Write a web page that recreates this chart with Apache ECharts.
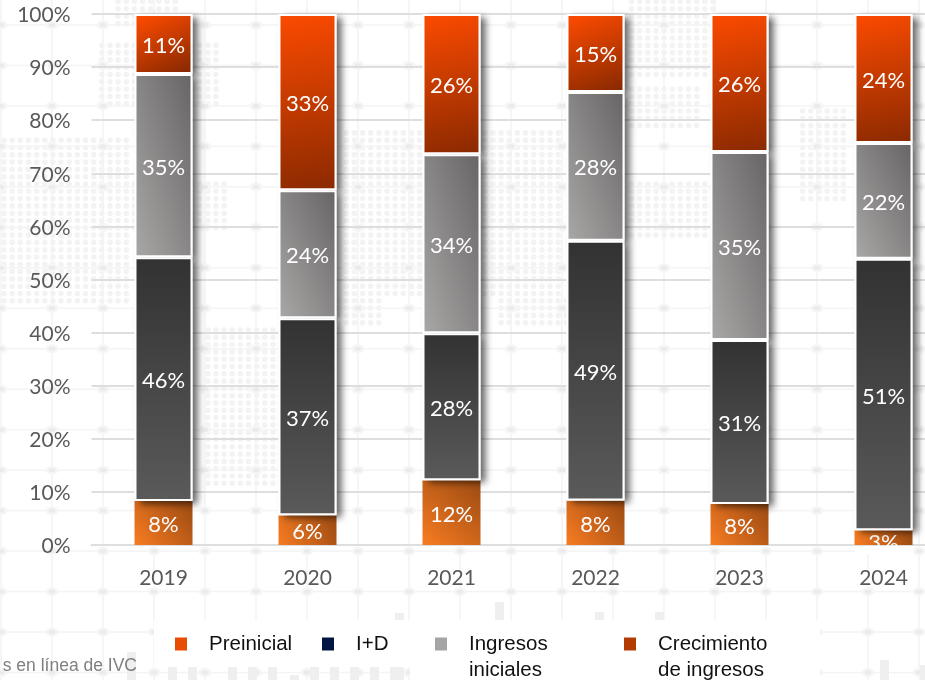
<!DOCTYPE html>
<html><head><meta charset="utf-8">
<style>
html,body{margin:0;padding:0;background:#fff;overflow:hidden}
#bg{position:absolute;left:0;top:0;width:925px;height:680px;z-index:0}
#main{position:absolute;left:0;top:0;width:925px;height:680px;z-index:1}
</style>
<script src="https://cdn.jsdelivr.net/npm/echarts@6/dist/echarts.min.js"></script>
</head><body>
<div id="bg"></div><div id="main"></div>
<script>
const years = ['2019','2020','2021','2022','2023','2024'];
const preinicial = [8.3,5.6,12.2,8.4,7.7,2.8];
const iD = [45.9,37.1,27.7,48.9,30.9,51.1];
const ingresosIniciales = [34.5,24.1,33.7,28.0,35.4,21.8];
const crecimiento = [11.3,33.2,26.4,14.7,26.0,24.3];
const yTicks = [0,10,20,30,40,50,60,70,80,90,100];

// Decorative backdrop: faint lattice, dotted world map, skyline bars
(function(){
  let s = '<svg xmlns="http://www.w3.org/2000/svg" width="925" height="680">';
  const dotPatches = [[0,136,130,165],[95,40,125,70],[115,0,65,25],[90,180,135,50],[200,330,90,160],[60,270,60,30],
    [340,130,90,165],[330,300,50,30],[470,130,95,170],[500,300,70,25],[630,0,90,80],[630,85,70,45],[630,180,85,60],[800,110,45,90],[795,180,30,20]];
  const seen = {};
  dotPatches.forEach(p=>{
    for(let y=1.5;y<680;y+=7.3){ for(let x=4;x<925;x+=8.15){
      if(x>=p[0]&&x<=p[0]+p[2]&&y>=p[1]&&y<=p[1]+p[3]){
        const k=x.toFixed(1)+'_'+y.toFixed(1);
        if(!seen[k]){seen[k]=1;s+=`<circle cx="${x.toFixed(1)}" cy="${y.toFixed(1)}" r="2.8" fill="#f3f3f3"/>`;}
      }
    }}
  });
  for(let i=0;i<19;i++){const x=1+51*i; s+=`<rect x="${x-0.75}" y="0" width="1.5" height="680" fill="#f4f4f4"/>`;}
  for(let j=0;j<17;j++){const y=25+40.47*j; s+=`<rect x="0" y="${y-0.75}" width="925" height="1.5" fill="#f4f4f4"/>`;}
  for(let i=0;i<19;i++){for(let j=0;j<17;j++){const x=1+51*i,y=25+40.47*j;
    s+=`<ellipse cx="${x}" cy="${y}" rx="6.5" ry="4.5" fill="#f6f6f6"/><ellipse cx="${x}" cy="${y}" rx="3.5" ry="2.2" fill="#ebebeb"/>`;}}
  [[127,652],[168,665],[188,665],[228,665],[248,665],[268,665],[290,675],[310,665],[330,665],[350,665],[370,665],[390,665],[395,613],[495,602],[595,612],[655,612],[880,660],[920,665]]
    .forEach(b=>{s+=`<rect x="${b[0]}" y="${b[1]}" width="9" height="${680-b[1]}" fill="#efefef"/>`;});
  s+='<rect x="154" y="620" width="258" height="47" fill="#fff"/><rect x="410" y="620" width="410" height="60" fill="#fff"/>';
  s+='</svg>';
  document.getElementById('bg').innerHTML=s;
})();

const font='Lato';
function grad(x,y,x2,y2,c0,c1){return {type:'linear',x,y,x2,y2,colorStops:[{offset:0,color:c0},{offset:1,color:c1}]};}
function cornerGrad(v,c0,c1){ // runs bottom-left to top-right, with the other two corners on the same tone
  const h=v*5.31,w=58,L2=h*h+w*w,a=h*h/L2,b=w*w/L2;
  return grad(0.5-a,0.5+b,0.5+a,0.5-b,c0,c1);
}
function mk(name,vals,color,border,z){
  return {name,type:'bar',stack:'front',barWidth:58,barGap:'-100%',z,data:vals,
    itemStyle:Object.assign({color},border?{borderColor:'#fff',borderWidth:2}:{}),
    label:{show:true,position:'inside',offset:[0,2],color:'#fff',fontFamily:font,fontSize:22,formatter:p=>Math.round(p.value)+'%'}};
}
// Shadow layer: plain fills behind the bordered bars, so the shadow does not fall on the bars themselves
function shadowLayer(key,vals,visible){
  return {name:key,type:'bar',stack:'back',barWidth:58,barGap:'-100%',z:3,silent:true,data:vals,
    itemStyle:visible?{color:'#fff',shadowColor:'rgba(0,0,0,0.6)',shadowBlur:7,shadowOffsetX:5,shadowOffsetY:3}:{color:'transparent'}};
}
const sPre=mk('Preinicial',preinicial,grad(0,1,1,0,'#F87C22','#9A4A12'),false,2);
sPre.data=preinicial.map((v,i)=>i===5?{value:v,label:{offset:[0,5]}}:v);
const sID=mk('I+D',iD,grad(0,0,0,1,'#323232','#5A5A5A'),true,4);
const sIng=mk('Ingresos iniciales',ingresosIniciales,'#8a8888',true,4);
sIng.data=ingresosIniciales.map(v=>({value:v,itemStyle:{color:cornerGrad(v,'#AAA8A7','#666464')}}));
const sCre=mk('Crecimiento de ingresos',crecimiento,grad(0.25,0,0.75,1,'#FA4A00','#8C2A00'),true,4);

function leg(name,left,top,color,text){
  return {show:true,left,top,orient:'horizontal',padding:0,itemWidth:12,itemHeight:13,selectedMode:false,
    data:[{name,icon:'rect',itemStyle:{color,borderWidth:0,shadowBlur:0,shadowColor:'transparent'}}],
    formatter:()=>text,
    textStyle:{fontFamily:'Liberation Sans',fontSize:20.5,lineHeight:26,color:'#111',padding:[0,0,0,17]}};
}
const chart=echarts.init(document.getElementById('main'),null,{renderer:'canvas'});
chart.setOption({
  animation:false,backgroundColor:'transparent',
  grid:{left:91.5,width:864,top:14,height:531,containLabel:false,outerBoundsMode:'none'},
  xAxis:{type:'category',data:years,axisTick:{show:false},
    axisLine:{lineStyle:{color:'#DEDEDE',width:2}},
    axisLabel:{color:'#595959',fontFamily:font,fontSize:21,margin:21,padding:[2,0,0,0]}},
  yAxis:{type:'value',min:0,max:100,interval:10,
    axisLine:{show:false},axisTick:{show:false},
    splitLine:{lineStyle:{color:'#DEDEDE',width:2}},
    axisLabel:{color:'#595959',fontFamily:font,fontSize:21,margin:21,verticalAlign:'top',lineHeight:3,formatter:v=>yTicks[v/10]+'%'}},
  legend:[
    leg('Preinicial',175,631,'#E84C00','Preinicial'),
    leg('I+D',322,631,'#001541','I+D'),
    leg('Ingresos iniciales',435,605,'#A5A5A5','\nIngresos\niniciales'),
    leg('Crecimiento de ingresos',624,605,'#B23C00','\nCrecimiento\nde ingresos')
  ],
  series:[sPre,
    shadowLayer('base',preinicial,false),shadowLayer('sID',iD,true),shadowLayer('sIng',ingresosIniciales,true),shadowLayer('sCre',crecimiento,true),
    sID,sIng,sCre],
  graphic:[
    {type:'rect',z:100,shape:{x:855,y:546,width:58,height:9},style:{fill:'#fff'}},
    {type:'text',z:100,style:{text:'s en línea de IVC',x:137,y:666,align:'right',verticalAlign:'middle',fontFamily:'Liberation Sans',fontSize:17.5,fill:'#7f7f7f'}}
  ]
});
</script>
</body></html>
